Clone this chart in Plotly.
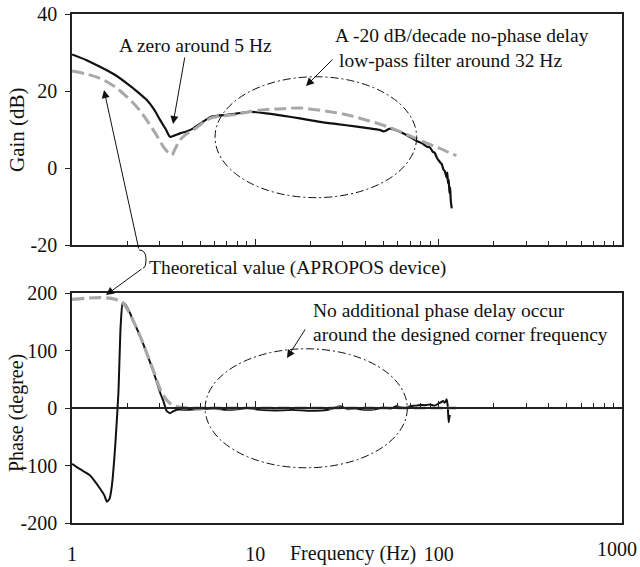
import plotly.graph_objects as go

# ---------------- data ----------------
gain_meas_f = [1.0, 1.2, 1.42, 1.7, 1.99, 2.3, 2.55, 2.8, 3.02, 3.25, 3.42, 3.6, 3.88, 4.2, 4.59,
               5.1, 5.66, 6.3, 6.97, 8.0, 9.36, 11.5, 14, 17.5, 22.5, 28, 35, 42, 47.6, 50, 52,
               54, 60, 68, 76, 82, 86, 89.8, 93, 95, 98, 101.8, 104, 106, 108, 110.6, 111.5,
               112.5, 113.5, 114.5, 115.5, 116.5, 117.9]
gain_meas_db = [29.5, 28.0, 26.3, 24.3, 22.0, 19.6, 17.7, 15.2, 12.5, 10.0, 8.1, 8.4, 9.0, 9.5, 10.3,
                11.8, 13.2, 13.6, 13.8, 14.2, 14.6, 14.2, 13.6, 12.9, 12.0, 11.4, 10.8, 10.3, 9.9, 9.5, 9.8,
                10.2, 9.6, 8.4, 7.0, 6.3, 5.6, 5.3, 4.2, 4.0, 2.6, 1.5, 1.0, -0.3, -0.8, -2.5, -1.2,
                -4.0, -3.0, -6.5, -5.0, -8.5, -10.5]

gain_theo_f = [1.0, 1.2, 1.42, 1.7, 1.99, 2.3, 2.55, 2.85, 3.15, 3.35, 3.5, 3.65, 3.88, 4.2, 4.59,
               5.1, 5.66, 6.5, 7.58, 9.0, 11.5, 14, 17.5, 22.5, 28, 34.2, 42, 52, 64, 79, 100, 125]
gain_theo_db = [25.2, 24.4, 23.3, 21.2, 18.5, 15.4, 12.5, 9.0, 5.5, 4.0, 3.4, 5.0, 7.3, 8.8, 9.9,
                11.5, 12.9, 13.5, 13.8, 14.5, 15.2, 15.4, 15.6, 15.0, 14.3, 13.4, 12.2, 10.8, 9.1, 7.2, 5.2, 3.2]

phase_meas_f = [1.0, 1.1, 1.25, 1.42, 1.5, 1.55, 1.6, 1.65, 1.72, 1.79, 1.84, 1.89, 1.95, 2.05, 2.16,
                2.35, 2.55, 2.8, 3.02, 3.15, 3.28, 3.42, 3.55, 3.72, 4.3, 5, 6, 7, 8, 9, 10, 12,
                14, 16, 20, 25, 29, 32, 35, 40, 45, 50, 55, 58.8, 65, 70, 75, 79, 85, 89.8, 95,
                100, 103, 105.6, 108, 110.6, 112, 113.5, 115]
phase_meas_deg = [-97, -106, -117, -140, -152, -163, -158, -134, -65, 27, 142, 183, 180, 168, 151,
                  125, 96, 60, 27, 12, -5, -9, -6, -3, -3, -2, -1, -3, -2, 0, -2, -4,
                  -4, -3, -5, -3, 3, -2, -1, -3, -2, 1, -1, 3, 0, 3, 4, 5, 5, 6, 4,
                  8, 10, 12, 9, 15, 5, -25, -12]

phase_theo_f = [1.0, 1.2, 1.42, 1.6, 1.72, 1.8, 1.89, 2.0, 2.16, 2.35, 2.55, 2.8, 3.02, 3.28, 3.5,
                3.88, 4.5, 6, 10, 20, 40, 80, 125]
phase_theo_deg = [189, 191, 192, 191, 189, 187, 183, 172, 151, 125, 96, 62, 33, 14, 6,
                  1, 0, 0, 0, 0, 0, 0, 0]

x_tick_vals = [1, 10, 100]
x_tick_text = ["1", "10", "100"]
x_last_tick_val = [1000]
x_last_tick_text = ["1000"]
gain_ticks = [-20, 0, 20, 40]
gain_tick_text = ["-20", "0", "20", "40"]
phase_ticks = [-200, -100, 0, 100, 200]
phase_tick_text = ["-200", "-100", "0", "100", "200"]

# ---------------- styling ----------------
FONT = "Liberation Serif, Times New Roman, serif"
BLACK = "#111111"
GRAY = "#a8a8a8"
FRAME = "#222222"
W, H = 640, 567
ML, MR, MT, MB = 72, 18, 14, 44
PW, PH = W - ML - MR, H - MT - MB
XR = [-0.0005, 3.0005]


def px(x):
    return (x - ML) / PW


def py(y):
    return (H - MB - y) / PH


top_dom = [py(245), 1.0]
bot_dom = [0.0, py(293)]
zero_pos = (bot_dom[0] + bot_dom[1]) / 2

fig = go.Figure()
fig.add_trace(go.Scatter(x=gain_meas_f, y=gain_meas_db, mode="lines", line_shape="spline",
                         line=dict(color=BLACK, width=2.2, smoothing=0.6), xaxis="x", yaxis="y",
                         showlegend=False))
fig.add_trace(go.Scatter(x=gain_theo_f, y=gain_theo_db, mode="lines", line_shape="spline",
                         line=dict(color=GRAY, width=3, dash="12px,5px"), xaxis="x", yaxis="y",
                         showlegend=False))
fig.add_trace(go.Scatter(x=phase_meas_f, y=phase_meas_deg, mode="lines", line_shape="spline",
                         line=dict(color=BLACK, width=2, smoothing=0.5), xaxis="x2", yaxis="y2",
                         showlegend=False))
fig.add_trace(go.Scatter(x=phase_theo_f, y=phase_theo_deg, mode="lines", line_shape="spline",
                         line=dict(color=GRAY, width=3.2, dash="12px,5px"), xaxis="x2", yaxis="y2",
                         showlegend=False))
# empty traces on the label axes so that they are drawn
fig.add_trace(go.Scatter(x=[], y=[], xaxis="x3", yaxis="y2", showlegend=False))
fig.add_trace(go.Scatter(x=[], y=[], xaxis="x4", yaxis="y2", showlegend=False))

minor = dict(ticks="inside", ticklen=4, tickcolor=FRAME, dtick="D1", showgrid=False)
label_axis = dict(type="log", range=XR, domain=[0, 1], anchor="y2", overlaying="x2",
                  ticks="", showgrid=False, zeroline=False, ticklabelstandoff=12,
                  ticklabeloverflow="allow", automargin=False)
fig.update_layout(
    width=W, height=H,
    margin=dict(l=ML, r=MR, t=MT, b=MB, autoexpand=False),
    paper_bgcolor="white", plot_bgcolor="white",
    font=dict(family=FONT, size=20, color="#111"),
    xaxis=dict(type="log", range=XR, domain=[0, 1], anchor="y", showline=True, mirror=True,
               linecolor=FRAME, linewidth=1.5, ticks="inside", ticklen=6, tickcolor=FRAME,
               dtick=1, showticklabels=False, showgrid=False, zeroline=False, minor=minor,
               automargin=False),
    yaxis=dict(range=[-20, 40], domain=top_dom, anchor="x", tickvals=gain_ticks,
               ticktext=gain_tick_text,
               showline=True, mirror=True, linecolor=FRAME, linewidth=1.5, ticks="outside",
               ticklen=5, tickcolor=FRAME, showgrid=False, zeroline=False, ticklabelstandoff=4,
               automargin=False),
    xaxis2=dict(type="log", range=XR, domain=[0, 1], anchor="free", position=zero_pos,
                showline=True, linecolor=FRAME, linewidth=1.5, ticks="inside", ticklen=6,
                tickcolor=FRAME, dtick=1, showticklabels=False, showgrid=False, zeroline=False,
                minor=minor, automargin=False),
    xaxis3=dict(label_axis, showline=True, mirror=True, linecolor=FRAME, linewidth=1.5,
                tickvals=x_tick_vals, ticktext=x_tick_text),
    xaxis4=dict(label_axis, showline=False, tickvals=x_last_tick_val, ticktext=x_last_tick_text,
                ticklabelshift=-5),
    yaxis2=dict(range=[-200, 200], domain=bot_dom, anchor="x2", tickvals=phase_ticks,
                ticktext=phase_tick_text,
                showline=True, mirror=True, linecolor=FRAME, linewidth=1.5, ticks="outside",
                ticklen=5, tickcolor=FRAME, showgrid=False, zeroline=False, ticklabelstandoff=4,
                automargin=False),
)

# dash-dot ellipses (shape x values are frequencies on the log axes)
fig.add_shape(type="circle", xref="x", yref="y", x0=10 ** 0.780, x1=10 ** 1.880, y0=-7.7, y1=23.7,
              line=dict(color=BLACK, width=1, dash="8px,3px,2px,3px"))
fig.add_shape(type="circle", xref="x2", yref="y2", x0=10 ** 0.726, x1=10 ** 1.829, y0=-104, y1=103,
              line=dict(color=BLACK, width=1, dash="8px,3px,2px,3px"))

# small bracket joining the two "Theoretical value" arrows
bx = [px(139), px(146), px(143)]
by = [py(250), py(259), py(268)]
fig.add_shape(type="path", xref="paper", yref="paper",
              path=f"M {bx[0]},{by[0]} Q {bx[1]},{by[0]} {bx[1]},{by[1]} Q {bx[1]},{by[2]} {bx[2]},{by[2]}",
              line=dict(color=BLACK, width=1))

ann_font = dict(family=FONT, size=19.5, color="#111")


def text(x, y, s, anchor="left"):
    fig.add_annotation(x=px(x), y=py(y), xref="paper", yref="paper", text=s, showarrow=False,
                       xanchor=anchor, yanchor="middle", font=ann_font)


def arrow(tail, tip):
    fig.add_annotation(x=px(tip[0]), y=py(tip[1]), xref="paper", yref="paper", text="",
                       showarrow=True, ax=tail[0] - tip[0], ay=tail[1] - tip[1],
                       axref="pixel", ayref="pixel", arrowhead=2, arrowsize=1.6,
                       arrowwidth=1, arrowcolor=BLACK, standoff=0, startstandoff=0)


text(195, 45, "A zero around 5 Hz", "center")
text(333, 35, "A -20 dB/decade no-phase delay")
text(337, 60, "low-pass filter around 32 Hz")
text(147, 268, "Theoretical value (APROPOS device)")
text(311, 310, "No additional phase delay occur")
text(311, 334, "around the designed corner frequency")

arrow((185, 56), (173, 124))
arrow((334, 58), (306, 86))
arrow((139, 250), (104, 90))
arrow((143, 268), (106, 295))
arrow((306, 328), (287, 358))

# axis titles
fig.add_annotation(x=px(17), y=py(130), xref="paper", yref="paper", text="Gain (dB)",
                   textangle=-90, showarrow=False, xanchor="center", yanchor="middle",
                   font=dict(family=FONT, size=21, color="#111"))
fig.add_annotation(x=px(16), y=py(413), xref="paper", yref="paper", text="Phase (degree)",
                   textangle=-90, showarrow=False, xanchor="center", yanchor="middle",
                   font=dict(family=FONT, size=20, color="#111"))
fig.add_annotation(x=px(353), y=py(553), xref="paper", yref="paper", text="Frequency (Hz)",
                   showarrow=False, xanchor="center", yanchor="middle",
                   font=dict(family=FONT, size=20, color="#111"))

fig.write_html("out.html")
